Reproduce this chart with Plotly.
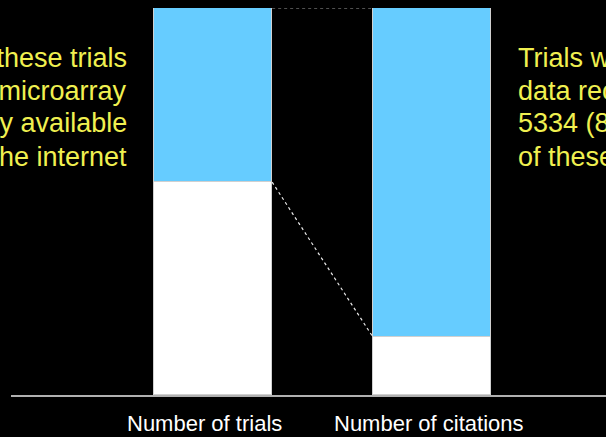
import plotly.graph_objects as go

# ---- data ----
categories = ["Number of trials", "Number of citations"]
no_data_pct = [55, 15]        # white (bottom) segment, percent
shared_data_pct = [45, 85]    # light blue (top) segment, percent
left_note = ["48% of these trials", "had microarray", "data publicly available", "on the internet"]
right_note = ["Trials with shared", "data received", "5334 (85%)", "of these citations"]
label_shift = [-9, -3]

BAR_W = 0.54
YELLOW = "#F0F050"
FONT = "Liberation Sans, Arial"

# plot area pixel geometry (for placing note lines)
PLOT_TOP, PLOT_BOTTOM = 8, 395
LINE_TOP, LINE_PITCH = 57.5, 33

fig = go.Figure()
fig.add_trace(go.Bar(x=categories, y=no_data_pct, width=BAR_W,
                     marker=dict(color="#FFFFFF", line=dict(color="#D0D0D0", width=1)),
                     showlegend=False, hoverinfo="skip"))
fig.add_trace(go.Bar(x=categories, y=shared_data_pct, width=BAR_W,
                     marker=dict(color="#66CCFF", line=dict(color="#D0D0D0", width=1)),
                     showlegend=False, hoverinfo="skip"))

tot = [a + b for a, b in zip(no_data_pct, shared_data_pct)]
x_left = 0 + BAR_W / 2
x_right = 1 - BAR_W / 2
# connector lines
fig.add_shape(type="line", xref="x", yref="y", x0=x_left, x1=x_right, y0=tot[0], y1=tot[1],
              line=dict(color="#A0A0A0", width=1.2, dash="3px,3px"))
fig.add_shape(type="line", xref="x", yref="y", x0=x_left, x1=x_right,
              y0=no_data_pct[0], y1=no_data_pct[1],
              line=dict(color="#E8E8E8", width=1.2, dash="3px,3px"))

# category labels
for c, s in zip(categories, label_shift):
    fig.add_annotation(x=c, xref="x", y=0, yref="paper", yanchor="middle", yshift=-28,
                       xshift=s, text=c, showarrow=False,
                       font=dict(family=FONT, size=22, color="#FFFFFF"))

def ypaper(px):
    return (PLOT_BOTTOM - px) / (PLOT_BOTTOM - PLOT_TOP)

for i, (lt, rt) in enumerate(zip(left_note, right_note)):
    yp = ypaper(LINE_TOP + i * LINE_PITCH)
    fig.add_annotation(x=0.198, xref="paper", y=yp, yref="paper", xanchor="right",
                       yanchor="middle", align="right", text=lt, showarrow=False,
                       font=dict(family=FONT, size=27, color=YELLOW))
    fig.add_annotation(x=0.8487, xref="paper", y=yp, yref="paper", xanchor="left",
                       yanchor="middle", align="left", text=rt, showarrow=False,
                       font=dict(family=FONT, size=27, color=YELLOW))

fig.update_layout(
    width=606, height=437,
    margin=dict(l=11, r=0, t=8, b=42),
    paper_bgcolor="#000000", plot_bgcolor="#000000",
    barmode="stack", bargap=0,
    xaxis=dict(range=[-0.9224, 1.7945], showline=True, linecolor="#B0B0B0", linewidth=1.5,
               showticklabels=False, showgrid=False, zeroline=False, ticks="",
               fixedrange=True),
    yaxis=dict(range=[0, 100], visible=False, showgrid=False, zeroline=False, fixedrange=True),
)

fig.write_html("out.html")
